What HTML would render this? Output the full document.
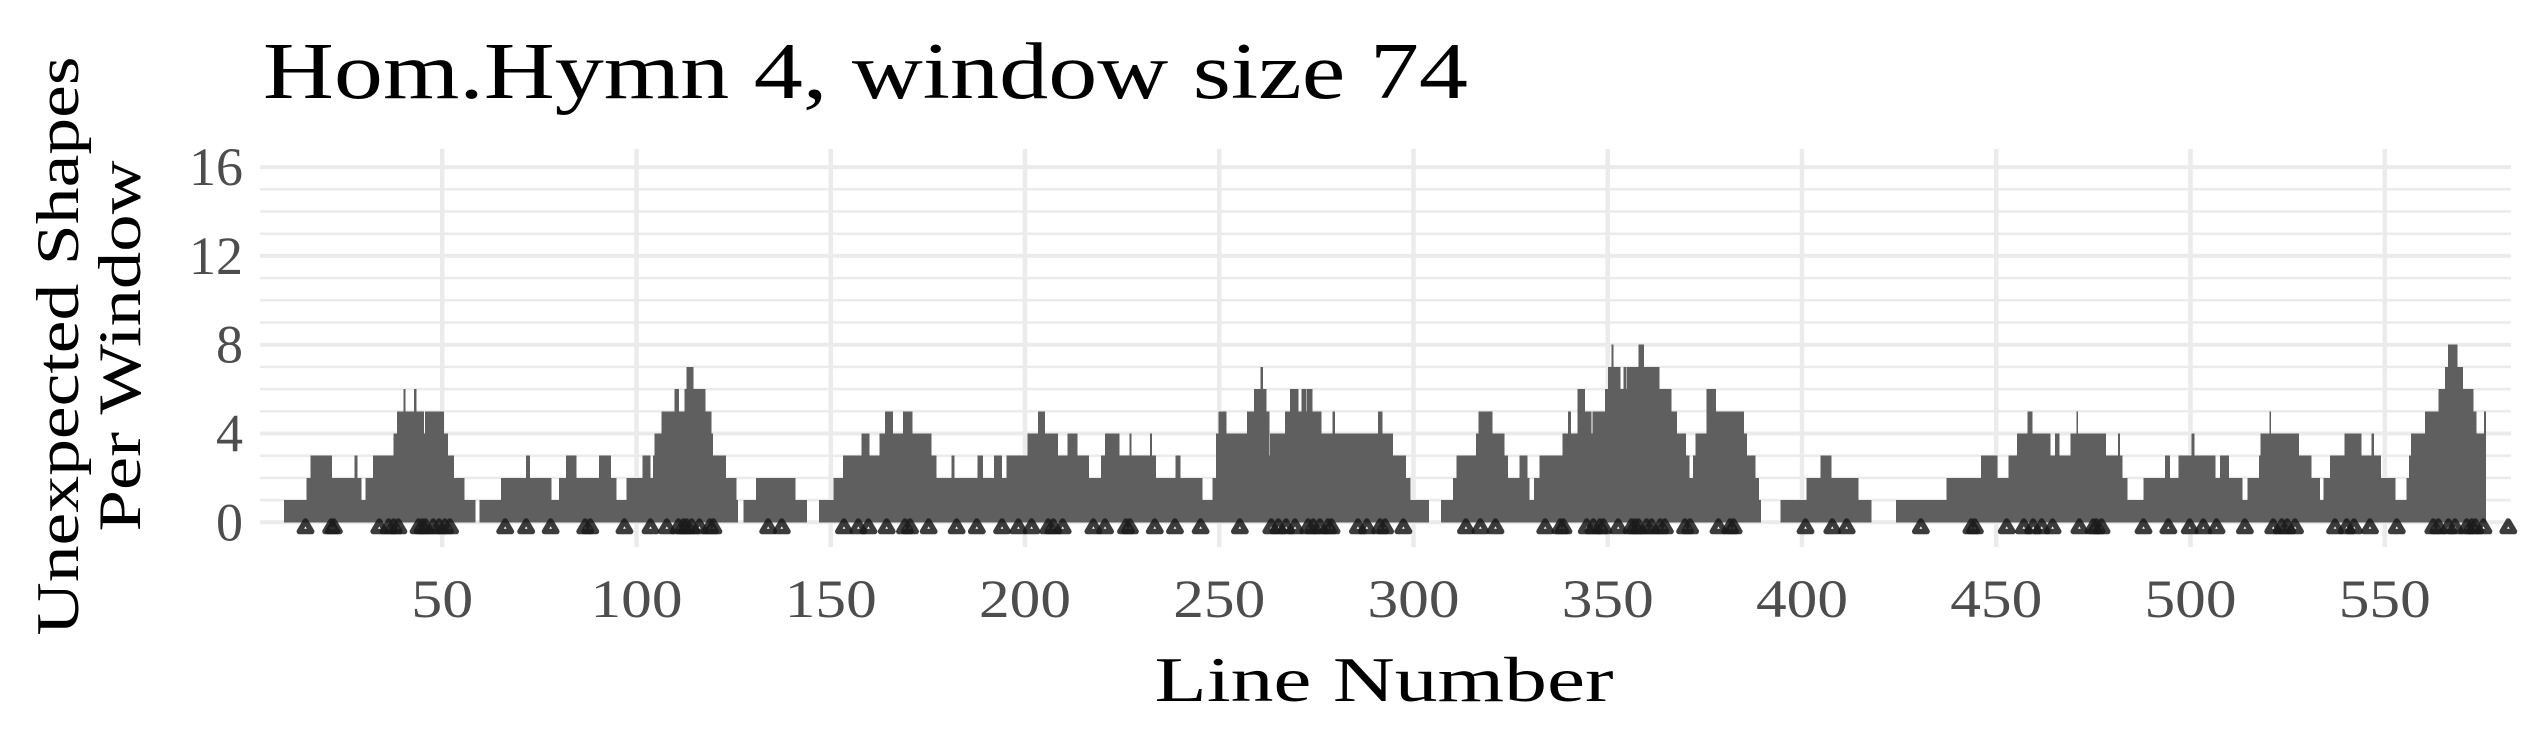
<!DOCTYPE html>
<html><head><meta charset="utf-8"><style>
html,body{margin:0;padding:0;background:#fff;}
svg{display:block;font-family:"Liberation Serif",serif;}
</style></head><body>
<svg id="chart" width="2544" height="750" viewBox="0 0 2544 750">
<text x="263" y="98" font-size="80" fill="#000" textLength="1205" lengthAdjust="spacingAndGlyphs">Hom.Hymn 4, window size 74</text>
<g id="grid"></g>
<g id="bars"></g>
<g id="markers"></g>
<g id="yticks"></g>
<g id="xticks"></g>
<text x="1384" y="701" font-size="64" text-anchor="middle" textLength="459" lengthAdjust="spacingAndGlyphs">Line Number</text>
<g transform="translate(78,346) rotate(-90)">
<text x="0" y="0" font-size="60" text-anchor="middle" textLength="579" lengthAdjust="spacingAndGlyphs">Unexpected Shapes</text>
<text x="0" y="62" font-size="60" text-anchor="middle" textLength="371" lengthAdjust="spacingAndGlyphs">Per Window</text>
</g>
</svg>
<script>
// run starts (line number) and window counts; null = no window
const runStarts = [9.3,15.0,16.1,21.4,27.4,28.0,29.0,30.3,32.2,37.5,38.3,40.0,40.4,42.7,43.2,45.1,45.6,50.3,51.3,52.8,55.6,58.5,59.6,65.1,71.5,72.4,78.0,80.0,81.8,84.4,90.4,93.2,94.7,97.4,101.6,103.4,104.3,104.6,106.4,109.8,110.8,112.3,112.9,114.5,117.6,119.1,119.5,122.8,125.5,126.1,127.6,130.8,140.7,143.9,147.0,150.7,153.1,157.9,159.8,162.5,163.9,165.9,168.6,170.8,175.7,177.0,181.1,181.7,187.8,189.0,192.0,193.9,195.2,200.6,203.4,205.0,208.3,210.9,213.3,216.3,219.5,220.6,224.1,226.9,227.2,232.2,232.5,233.5,238.7,239.9,245.5,248.2,249.1,249.8,251.7,257.2,258.9,260.6,261.1,262.0,262.7,263.0,266.9,268.2,270.2,271.2,272.1,272.5,273.8,276.1,279.1,279.6,290.9,291.9,294.6,297.9,299.1,304.0,307.1,310.2,311.1,316.1,316.7,320.1,323.3,324.2,327.3,329.1,329.7,331.0,332.4,338.4,339.8,340.3,342.2,344.0,345.6,346.1,349.3,350.1,351.0,351.3,353.1,354.0,354.6,355.0,357.9,359.1,363.2,366.2,367.7,369.9,370.9,372.0,372.6,375.4,377.7,384.9,385.6,387.9,388.8,389.4,394.5,401.2,404.8,407.4,414.3,417.9,424.2,437.2,446.1,450.1,453.1,455.4,458.0,459.1,463.8,465.1,466.1,469.1,470.7,470.9,478.1,481.4,481.7,482.3,483.6,487.9,493.5,494.5,496.9,500.3,500.8,506.3,507.6,509.7,513.2,514.7,517.6,518.0,520.3,520.6,527.8,531.0,533.2,534.2,535.9,539.6,543.8,546.6,547.1,548.9,552.6,555.6,556.2,556.8,560.4,563.8,565.5,566.3,568.6,569.9,572.7,573.5,575.5,576.1];
const runValues = [1,2,3,2,3,2,1,2,3,4,5,6,5,6,5,4,5,4,3,2,1,null,1,2,3,2,1,2,3,2,3,2,1,2,3,2,3,4,5,6,5,6,7,6,5,4,3,2,1,null,1,2,1,null,1,2,3,4,3,4,5,4,5,4,3,2,3,2,3,2,3,2,3,4,5,4,3,4,3,2,3,4,3,4,3,4,3,2,3,2,1,2,4,5,4,5,6,7,6,5,3,4,5,6,5,6,5,6,5,4,5,4,5,4,3,2,1,null,1,2,3,4,5,4,3,2,3,2,1,2,3,4,5,4,6,5,4,5,6,7,8,7,6,7,6,7,8,7,6,5,4,3,2,3,4,6,5,4,3,2,1,null,1,2,3,2,1,null,1,2,3,2,3,4,5,4,3,4,3,4,5,4,3,4,3,2,1,2,3,2,3,4,3,2,3,2,1,2,3,4,5,4,3,2,1,2,3,4,3,4,3,2,1,2,3,4,5,6,7,8,7,6,5,4,5,null];
const markerLines = [14.8,21.4,22.1,33.8,36.2,37.5,38.7,43.9,44.9,45.7,47.7,49.2,50.7,52.0,66.2,71.6,77.9,86.8,88.1,96.9,103.6,107.8,110.8,112.1,112.9,114.2,116.2,118.9,119.8,133.9,137.4,153.4,157.1,159.7,164.4,169.1,170.4,175.2,182.4,187.6,194.1,198.3,201.7,206.0,207.3,209.7,217.6,220.6,226.0,227.0,233.4,238.6,245.2,255.3,263.4,265.2,267.2,269.5,272.9,274.2,275.9,278.0,278.9,285.7,288.0,291.4,292.7,297.4,313.5,317.2,321.1,333.9,337.8,338.6,344.6,346.3,348.0,348.9,352.7,356.1,357.0,357.9,360.0,361.3,363.5,364.7,369.9,371.2,378.5,381.5,382.4,400.9,407.8,411.5,430.6,443.6,444.5,452.7,457.1,459.5,461.7,464.5,471.4,475.0,475.8,477.1,487.9,494.3,499.8,503.3,506.7,514.0,521.3,523.5,524.9,526.9,537.2,540.2,542.1,546.2,553.1,562.5,563.8,566.4,568.1,571.1,572.4,573.3,575.4,581.8];
const xTicks = [50,100,150,200,250,300,350,400,450,500,550];
const yTicks = [0,4,8,12,16];
const yGridValues = [0,1,2,3,4,5,6,7,8,9,10,11,12,13,14,15,16];

const NS = "http://www.w3.org/2000/svg";
const PL = 260, PR = 2511, PT = 149, PB = 547;
function xs(v){ return 248 + (v) * 3.885; }
function ys(v){ return 522.3 - v * 22.2; }
function mk(tag, attrs, parent){
  const e = document.createElementNS(NS, tag);
  for (const k in attrs) e.setAttribute(k, attrs[k]);
  parent.appendChild(e); return e;
}
const grid = document.getElementById('grid');
yGridValues.forEach(v => {
  const l = mk('line', {x1:PL, x2:PR, y1:ys(v), y2:ys(v), stroke:'#ebebeb', 'stroke-width': v % 4 === 0 ? 4 : 2.5}, grid);
  
  
});
xTicks.forEach(v => {
  const l = mk('line', {x1:xs(v), x2:xs(v), y1:PT, y2:PB, stroke:'#ebebeb', 'stroke-width':4.5}, grid);
  
  
});
const bars = document.getElementById('bars');
for (let i = 0; i < runStarts.length - 1; i++) {
  const v = runValues[i];
  if (v === null) continue;
  const x1 = xs(runStarts[i]), x2 = xs(runStarts[i+1]);
  const nextNull = runValues[i+1] === null || runValues[i+1] === undefined;
  const w = Math.max(0.8, x2 - x1) + (nextNull ? 0 : 0.7);
  const r = mk('rect', {x:x1, y:ys(v), width:w, height:ys(0) - ys(v), fill:'#5f5f5f', 'shape-rendering':'crispEdges'}, bars);
  
  
}
const markers = document.getElementById('markers');
markerLines.forEach(m => {
  const cx = xs(m);
  const p = mk('polygon', {points:(cx)+',521 '+(cx-6.2)+',531.5 '+(cx+6.2)+',531.5', fill:'none', stroke:'#1a1a1a', 'stroke-width':5.5, 'stroke-linejoin':'round', 'stroke-opacity':0.85}, markers);
  
  
});
const yt = document.getElementById('yticks');
yTicks.forEach(v => {
  const t = mk('text', {x:243, y:ys(v) + 18, 'font-size':54, fill:'#4d4d4d', 'text-anchor':'end'}, yt);
  t.textContent = String(v);
  
  
});
const xt = document.getElementById('xticks');
xTicks.forEach(v => {
  const s = String(v);
  const t = mk('text', {x:xs(v), y:617, 'font-size':54, fill:'#4d4d4d', 'text-anchor':'middle', textLength: s.length === 2 ? 62 : 92, lengthAdjust:'spacingAndGlyphs'}, xt);
  t.textContent = s;
  
  
});
</script>
</body></html>
